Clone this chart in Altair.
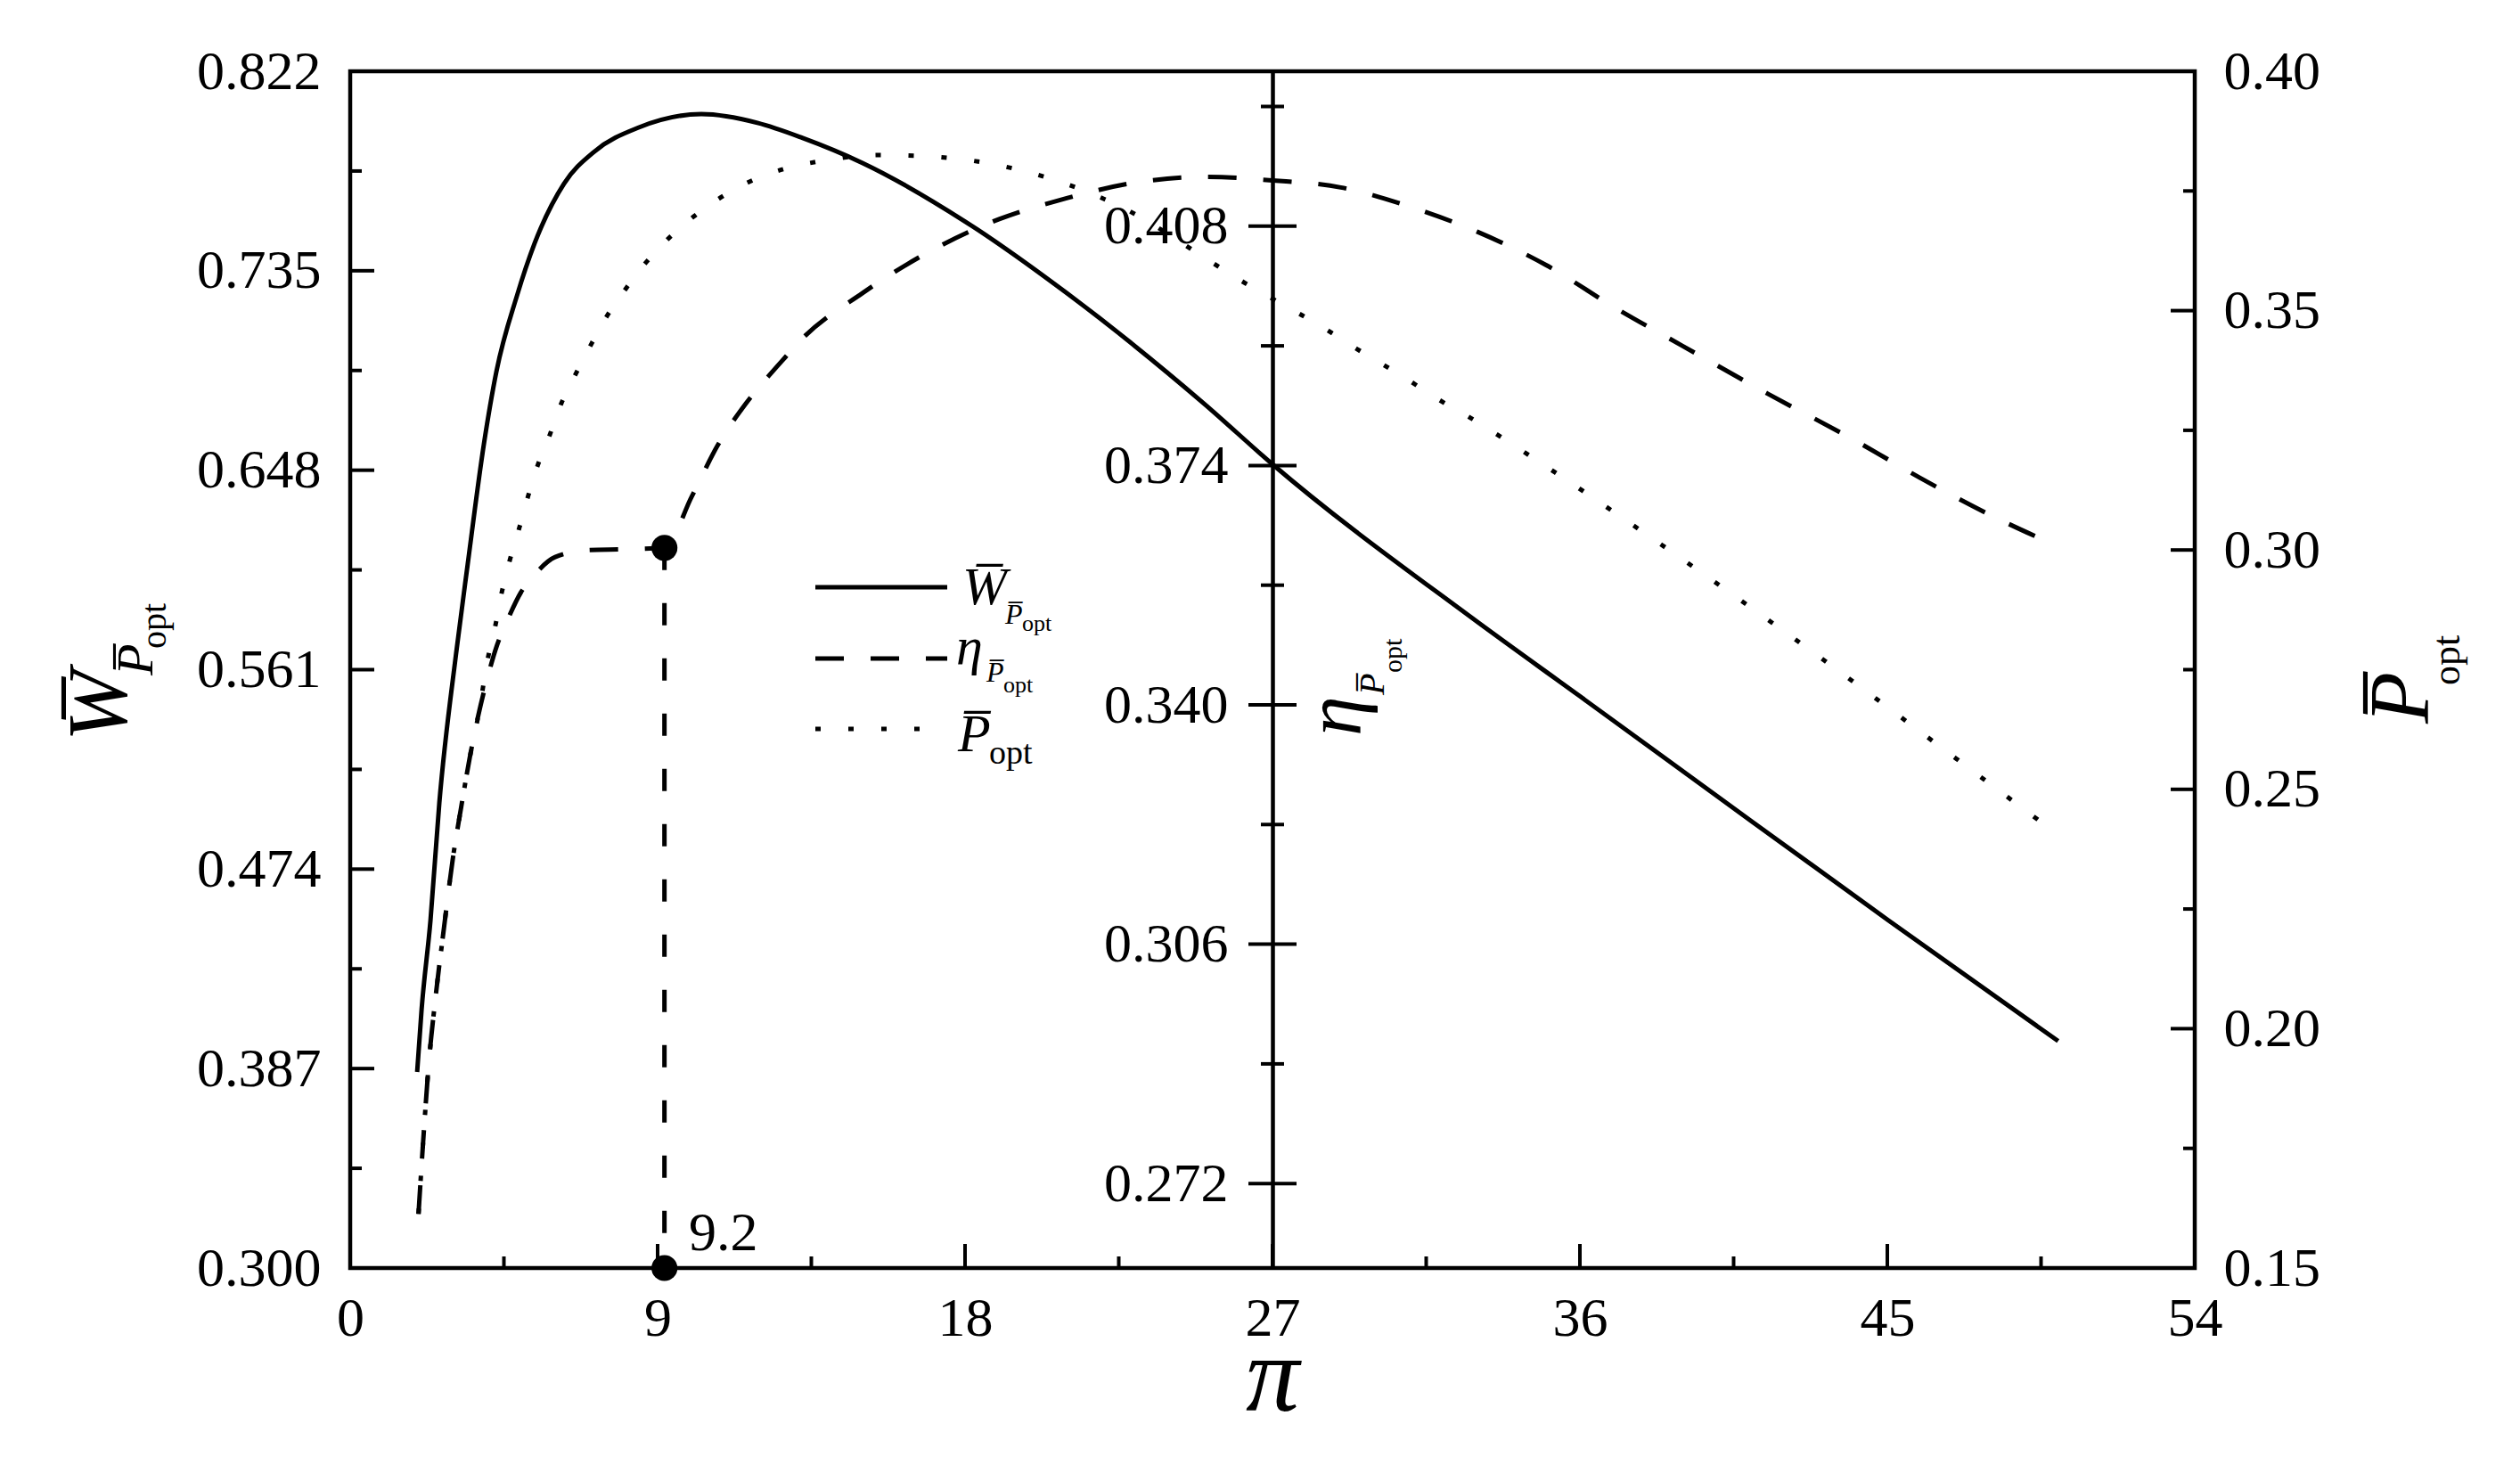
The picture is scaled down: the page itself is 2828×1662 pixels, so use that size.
import altair as alt
import pandas as pd

# ---------------- data ----------------
pi_W = [1.96, 2.09, 2.35, 2.61, 3.10, 3.44, 3.91, 4.28, 4.88, 5.40, 6.26, 7.15, 8.45,
        10.28, 11.92, 13.23, 15.0, 18.0, 21.0, 25.0, 27.0, 32.8, 36.0, 40.0, 45.0, 50.0]
W_vals = [0.3855, 0.4127, 0.4516, 0.503, 0.568, 0.607, 0.659, 0.691, 0.724, 0.747, 0.773,
          0.787, 0.7975, 0.8033, 0.7995, 0.793, 0.782, 0.7565, 0.725, 0.677, 0.6506,
          0.584, 0.5494, 0.506, 0.452, 0.399]

pi_eta = [2.0, 2.15, 2.3, 2.5, 2.75, 3.0, 3.25, 3.5, 3.75, 4.0, 4.3, 4.6, 5.0, 5.4, 6.0,
          7.0, 8.0, 9.2, 10.0, 10.75, 11.6, 12.65, 13.23, 15.0, 17.0, 19.0, 21.0, 23.0,
          25.0, 27.0, 29.0, 31.0, 33.0, 35.0, 37.0, 39.0, 41.5, 44.0, 46.2, 48.0, 50.0]
eta_vals = [0.2677, 0.279, 0.289, 0.2985, 0.3085, 0.318, 0.3255, 0.3325, 0.3385, 0.3435,
            0.3485, 0.352, 0.356, 0.3585, 0.361, 0.362, 0.3621, 0.3623, 0.3696, 0.3768,
            0.3829, 0.3889, 0.392, 0.3985, 0.4045, 0.409, 0.412, 0.4142, 0.415, 0.4145,
            0.4135, 0.4108, 0.4072, 0.4025, 0.3965, 0.391, 0.3842, 0.3777, 0.3716,
            0.367, 0.3625]

pi_P = [2.0, 2.15, 2.3, 2.5, 2.75, 3.0, 3.25, 3.5, 3.75, 4.04, 4.25, 4.43, 4.67, 4.93,
        5.19, 5.48, 5.84, 6.18, 6.57, 7.02, 7.46, 8.01, 8.56, 9.18, 9.89, 10.67, 11.53,
        12.44, 14.0, 15.5, 17.0, 18.5, 20.3, 22.7, 25.2, 26.0, 26.8, 27.7, 28.5, 29.4,
        30.2, 31.0, 31.8, 32.7, 35.0, 38.0, 41.0, 44.0, 47.0, 50.0]
P_vals = [0.1613, 0.1779, 0.1926, 0.2066, 0.2213, 0.2353, 0.2463, 0.2566, 0.2654, 0.2777,
          0.2842, 0.2909, 0.2978, 0.3041, 0.3108, 0.3175, 0.324, 0.3306, 0.3363, 0.3425,
          0.3482, 0.354, 0.3592, 0.3641, 0.3687, 0.3728, 0.3764, 0.379, 0.3815, 0.3825,
          0.3822, 0.381, 0.378, 0.3712, 0.3602, 0.3566, 0.3533, 0.3497, 0.3464, 0.3423,
          0.3389, 0.3354, 0.3317, 0.328, 0.3175, 0.303, 0.288, 0.2725, 0.2565, 0.2405]

mark_pi = [9.2, 9.2]
mark_eta = [0.3623, 0.26]

x_major = [0, 9, 18, 27, 36, 45, 54]
x_minor = [4.5, 13.5, 22.5, 31.5, 40.5, 49.5]
W_major = [0.300, 0.387, 0.474, 0.561, 0.648, 0.735, 0.822]
W_minor = [0.3435, 0.4305, 0.5175, 0.6045, 0.6915, 0.7785]
eta_major = [0.272, 0.306, 0.340, 0.374, 0.408]
eta_minor = [0.289, 0.323, 0.357, 0.391, 0.425]
P_major = [0.15, 0.20, 0.25, 0.30, 0.35, 0.40]
P_minor = [0.175, 0.225, 0.275, 0.325, 0.375]

# ---------------- layout ----------------
FONT = "Liberation Serif"
PW, PH = 2070, 1343
MID = PW / 2
LW = 5
W_DOM = [0.300, 0.822]
E_DOM = [0.26, 0.43]
P_DOM = [0.15, 0.40]
XS = alt.Scale(domain=[0, 54], nice=False, zero=False)

X_AXIS = alt.Axis(values=x_major, format="d", ticks=False, tickSize=0, domain=False,
                  grid=False, labelFont=FONT, labelFontSize=62, labelPadding=26,
                  labelColor="black", title=None, labelFlush=False)


def X(field):
    return alt.X(field, scale=XS, axis=X_AXIS)


def yscale(dom):
    return alt.Scale(domain=dom, nice=False, zero=False)


dfW = pd.DataFrame({"pi": pi_W, "v": W_vals})
dfE = pd.DataFrame({"pi": pi_eta, "v": eta_vals})
dfP = pd.DataFrame({"pi": pi_P, "v": P_vals})
dfM = pd.DataFrame({"pi": mark_pi, "v": mark_eta})

W_line = alt.Chart(dfW).mark_line(color="black", strokeWidth=LW, interpolate="monotone").encode(
    x=X("pi:Q"),
    y=alt.Y("v:Q", scale=yscale(W_DOM),
            axis=alt.Axis(orient="left", values=W_major, format=".3f", ticks=False, tickSize=0,
                          domain=False, grid=False, labelFont=FONT, labelFontSize=62,
                          labelPadding=33, labelColor="black", title=None, labelFlush=False)),
)

E_line = alt.Chart(dfE).mark_line(color="black", strokeWidth=LW, strokeDash=[32, 30],
                                  interpolate="monotone").encode(
    x=X("pi:Q"),
    y=alt.Y("v:Q", scale=yscale(E_DOM),
            axis=alt.Axis(orient="left", offset=-MID, values=eta_major, format=".3f",
                          ticks=False, tickSize=0, domain=True, domainColor="black",
                          domainWidth=4.5, grid=False, labelFont=FONT, labelFontSize=62,
                          labelPadding=50, labelColor="black", title=None, labelFlush=False)),
)

P_line = alt.Chart(dfP).mark_line(color="black", strokeWidth=LW, strokeDash=[6, 31],
                                  interpolate="monotone").encode(
    x=X("pi:Q"),
    y=alt.Y("v:Q", scale=yscale(P_DOM),
            axis=alt.Axis(orient="right", values=P_major, format=".2f", ticks=False,
                          tickSize=0, domain=False, grid=False, labelFont=FONT,
                          labelFontSize=62, labelPadding=32, labelColor="black", title=None,
                          labelFlush=False)),
)

drop = alt.Chart(dfM).mark_line(color="black", strokeWidth=LW, strokeDash=[25, 37]).encode(
    x=X("pi:Q"),
    y=alt.Y("v:Q", scale=yscale(E_DOM), axis=None),
)
dots = alt.Chart(dfM).mark_circle(color="black", opacity=1, size=850).encode(
    x=X("pi:Q"),
    y=alt.Y("v:Q", scale=yscale(E_DOM), axis=None),
)


# ---------------- ticks (inward, drawn through the scales) ----------------
def yticks(vals, dom, x0, x1):
    return alt.Chart(pd.DataFrame({"v": vals})).mark_rule(color="black", strokeWidth=4).encode(
        y=alt.Y("v:Q", scale=yscale(dom), axis=None), x=alt.value(x0), x2=alt.value(x1))


def xticks(vals, length):
    return alt.Chart(pd.DataFrame({"p": vals})).mark_rule(color="black", strokeWidth=4).encode(
        x=X("p:Q"), y=alt.value(PH), y2=alt.value(PH - length))


tick_layers = [
    xticks(x_major, 27), xticks(x_minor, 13),
    yticks(W_major, W_DOM, 0, 27), yticks(W_minor, W_DOM, 0, 13),
    yticks(P_major, P_DOM, PW - 27, PW), yticks(P_minor, P_DOM, PW - 13, PW),
    yticks(eta_major, E_DOM, MID - 27, MID + 27), yticks(eta_minor, E_DOM, MID - 13, MID + 13),
]


# ---------------- text (titles, legend, annotation) ----------------
def txt(s, x, y, size, style="normal", angle=0, align="left", baseline="alphabetic"):
    return alt.Chart(pd.DataFrame({"t": [s]})).mark_text(
        font=FONT, fontSize=size, fontStyle=style, angle=angle, align=align,
        baseline=baseline, color="black").encode(
        x=alt.value(x), y=alt.value(y), text="t:N")


OV = "\u0305"
texts = [
    # x title
    txt("\u03c0", MID, 1503, 120, "italic", align="center"),
    # left title
    txt("W" + OV, -251, 752, 96, "italic", angle=270),
    txt("P" + OV, -222, 678, 58, "italic", angle=270),
    txt("opt", -207, 648, 40, angle=270),
    # right title
    txt("P" + OV, 2332, 732, 95, "italic", angle=270),
    txt("opt", 2367, 689, 44, angle=270),
    # middle title
    txt("\u03b7", 1134, 746, 90, "italic", angle=270),
    txt("P" + OV, 1160, 700, 40, "italic", angle=270),
    txt("opt", 1180, 675, 30, angle=270),
    # annotation
    txt("9.2", 380, 1323, 62),
    # legend labels
    txt("W" + OV, 687, 598, 60, "italic"),
    txt("P" + OV, 735, 620, 32, "italic"),
    txt("opt", 754, 628, 26),
    txt("\u03b7", 680, 665, 60, "italic"),
    txt("P" + OV, 714, 685, 32, "italic"),
    txt("opt", 733, 697, 26),
    txt("P" + OV, 682, 763, 60, "italic"),
    txt("opt", 717, 777, 38),
]


def leg(y, dash):
    kw = {} if dash is None else {"strokeDash": dash}
    return alt.Chart(pd.DataFrame({"k": [0]})).mark_rule(color="black", strokeWidth=LW, **kw).encode(
        x=alt.value(522), x2=alt.value(670), y=alt.value(y))


legend = [leg(579, None), leg(659, [32, 30]), leg(738, [6, 31])]

chart = alt.layer(W_line, E_line, P_line, drop, dots, *tick_layers, *legend, *texts).resolve_scale(
    y="independent").resolve_axis(y="independent").properties(
    width=PW, height=PH,
    padding={"left": 385, "top": 72, "right": 357, "bottom": 230},
    autosize=alt.AutoSizeParams(type="none"),
    background="white",
).configure_view(stroke="black", strokeWidth=4.5)

chart.save("out.html", embed_options={"renderer": "svg", "actions": False})
